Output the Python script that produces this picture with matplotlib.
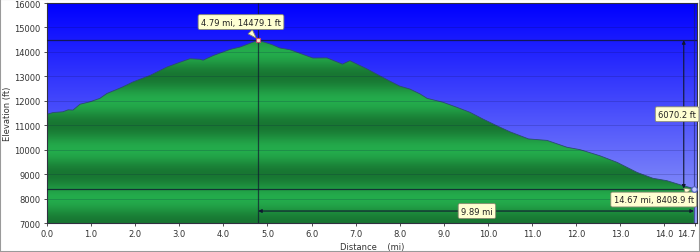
import numpy as np
import matplotlib
matplotlib.use('Agg')
import matplotlib.pyplot as plt
from matplotlib.patches import Rectangle

# Elevation profile (miles, feet)
dist = [0.0, 0.14, 0.36, 0.48, 0.59, 0.75, 0.98, 1.20, 1.36, 1.59, 1.72, 1.95,
        2.34, 2.72, 3.02, 3.24, 3.47, 3.54, 3.77, 4.15, 4.38, 4.79,
        5.10, 5.28, 5.51, 6.03, 6.35, 6.70, 6.87, 7.26, 7.55, 7.78, 8.00,
        8.23, 8.46, 8.62, 8.98, 9.30, 9.59, 9.89, 10.20, 10.50, 10.92, 11.34,
        11.79, 12.09, 12.54, 12.93, 13.38, 13.74, 14.06, 14.42, 14.67]
elev = [11450, 11520, 11550, 11630, 11620, 11860, 11960, 12100, 12300, 12470, 12570, 12770,
        13040, 13380, 13580, 13720, 13700, 13660, 13850, 14100, 14200, 14479.1,
        14300, 14160, 14090, 13750, 13755, 13500, 13640, 13300, 13020, 12800, 12600,
        12480, 12280, 12100, 11940, 11730, 11530, 11250, 10980, 10730, 10440, 10380,
        10100, 10000, 9750, 9480, 9070, 8830, 8730, 8530, 8408.9]

peak_d, peak_e = 4.79, 14479.1
end_d, end_e = 14.67, 8408.9
peak_label = '4.79 mi, 14479.1 ft'
end_label = '14.67 mi, 8408.9 ft'
gain_label = '6070.2 ft'
span_label = '9.89 mi'

xticks = [0, 1, 2, 3, 4, 5, 6, 7, 8, 9, 10, 11, 12, 13, 14, 14.7]
xticklabels = ['0.0', '1.0', '2.0', '3.0', '4.0', '5.0', '6.0', '7.0', '8.0', '9.0',
               '10.0', '11.0', '12.0', '13.0', '14.0', '14.7']
yticks = [7000, 8000, 9000, 10000, 11000, 12000, 13000, 14000, 15000, 16000]

x0, x1 = 0, 14.74
y0, y1 = 7000, 16000

fig = plt.figure(figsize=(7, 2.53), dpi=100)
ax = fig.add_axes([0.0671, 0.1146, 0.9286, 0.8695])
ax.set_xlim(x0, x1)
ax.set_ylim(y0, y1)

# blue sky gradient
t = np.linspace(0, 1, 256)[:, None]
top = np.array([0, 0, 255]) / 255
bot = np.array([150, 160, 248]) / 255
sky = (top * (1 - t) + bot * t)[:, None, :] * np.ones((1, 2, 1))
ax.imshow(sky, extent=[x0, x1, y0, y1], origin='upper', aspect='auto', zorder=0)

# green banded gradient, dark at odd thousands, light at even thousands
ev = np.linspace(y0, y1, 900)
w = 0.5 + 0.5 * np.cos(np.pi * (ev - 8000) / 1000)
dark = np.array([24, 118, 50]) / 255
light = np.array([36, 172, 76]) / 255
grn = (dark * (1 - w[:, None]) + light * w[:, None])[:, None, :] * np.ones((1, 2, 1))
fill = ax.fill_between(dist, elev, y0, facecolor='none', edgecolor='none', zorder=1)
im = ax.imshow(grn, extent=[x0, x1, y0, y1], origin='lower', aspect='auto', zorder=1)
im.set_clip_path(fill.get_paths()[0], transform=ax.transData)
ax.plot(dist, elev, color='#2c4a70', lw=0.6, zorder=2)

for yv in yticks[1:-1]:
    ax.axhline(yv, color='#0a0a40', lw=0.6, alpha=0.2, zorder=2)

# marker lines
line_c = '#101830'
ax.axhline(peak_e, color=line_c, lw=0.9, alpha=0.8, zorder=3)
ax.axhline(end_e, color=line_c, lw=0.9, alpha=0.8, zorder=3)
ax.axvline(peak_d, color=line_c, lw=0.9, alpha=0.7, zorder=3)
ax.axvline(end_d, color='#1a2060', lw=0.8, alpha=0.6, zorder=3)

# elevation gain arrow and distance arrow
ax.annotate('', xy=(14.44, peak_e), xytext=(14.44, end_e),
            arrowprops=dict(arrowstyle='<|-|>', color=line_c, lw=0.8,
                            mutation_scale=5, shrinkA=0, shrinkB=0), zorder=4)
ax.annotate('', xy=(peak_d, 7490), xytext=(end_d, 7490),
            arrowprops=dict(arrowstyle='<|-|>', color=line_c, lw=0.8,
                            mutation_scale=5, shrinkA=0, shrinkB=0), zorder=4)

box = dict(boxstyle='round,pad=0.35,rounding_size=0.2', fc='#ffffd2', ec='#8a8a70', lw=0.6)
ax.text(14.29, 11450, gain_label, fontsize=6, ha='center', va='center', color='#222', bbox=box, zorder=6)
ax.text(9.75, 7490, span_label, fontsize=6, ha='center', va='center', color='#222', bbox=box, zorder=6)

wedge = dict(arrowstyle='wedge,tail_width=0.7,shrink_factor=0.5', fc='#ffffd2', ec='#8a8a70', lw=0.6)
ax.annotate(peak_label, xy=(peak_d, peak_e), xytext=(4.40, 15220), fontsize=6,
            ha='center', va='center', color='#222', bbox=box, arrowprops=wedge, zorder=6)
ax.annotate(end_label, xy=(end_d, end_e), xytext=(13.76, 7960), fontsize=6,
            ha='center', va='center', color='#222', bbox=box, arrowprops=wedge, zorder=6)

ax.plot(peak_d, peak_e, marker='s', ms=3.5, mfc='#f4e4c0', mec='#c05070', mew=0.8, zorder=7, clip_on=False)
ax.plot(end_d, end_e, marker='o', ms=4, mfc='#c0c8ff', mec='#5060c0', mew=0.8, zorder=7, clip_on=False)

ax.set_xticks(xticks)
ax.set_xticklabels(xticklabels)
ax.get_xticklabels()[-1].set_horizontalalignment('right')
ax.set_yticks(yticks)
ax.tick_params(labelsize=6, colors='#333333', length=2.5, width=0.6, pad=2)
ax.set_xlabel('Distance    (mi)', fontsize=6, color='#333333', labelpad=3)
ax.set_ylabel('Elevation (ft)', fontsize=6, color='#333333', labelpad=2)
for s in ax.spines.values():
    s.set_linewidth(0.8)
    s.set_color('#303040')

fig.patches.append(Rectangle((0, 0), 1, 1, transform=fig.transFigure, fill=False,
                             edgecolor='#9a9a9a', lw=1.5))

fig.savefig('out.png', dpi=100)
